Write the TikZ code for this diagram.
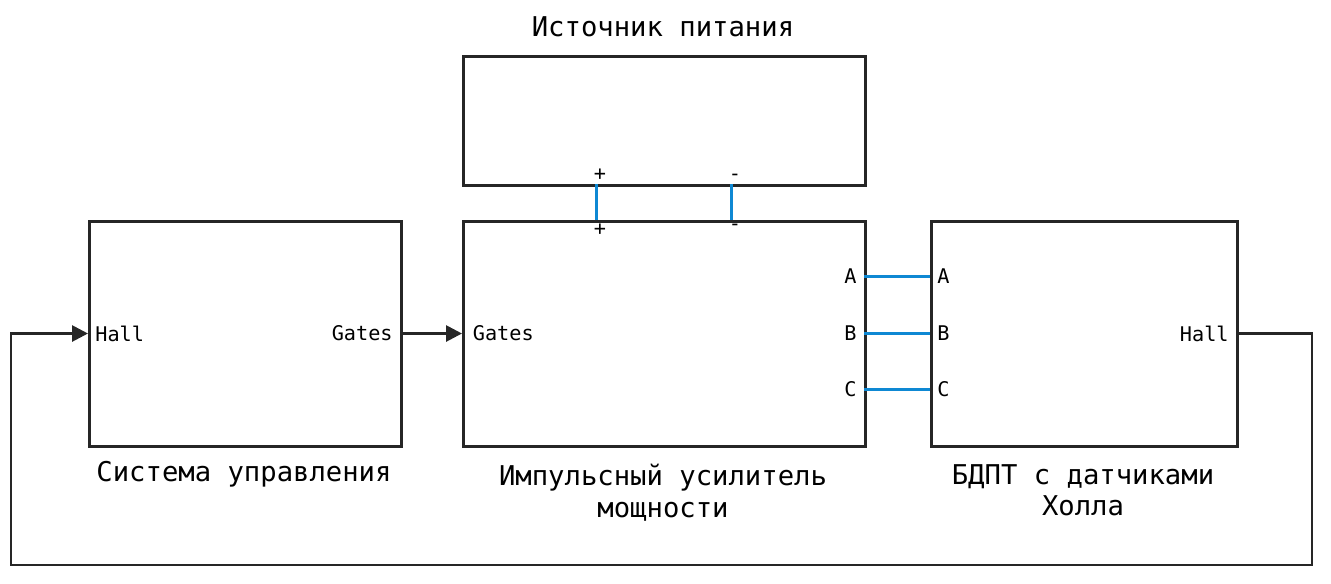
\documentclass[tikz,border=0pt]{standalone}
\usepackage{fontspec}
\setmonofont{DejaVu Sans Mono}
\usetikzlibrary{arrows.meta}
\begin{document}
\begin{tikzpicture}[x=0.02cm,y=-0.02cm,
  box/.style={draw=black!85,line width=1.5pt,fill=none},
  big/.style={font=\ttfamily\fontsize{15.5}{18}\selectfont,align=center},
  small/.style={font=\ttfamily\fontsize{11.5}{13}\selectfont,inner sep=4pt},
  wire/.style={draw=black!85,line width=1.6pt},
  phase/.style={draw=cyan!70!blue,line width=1.6pt}]
\useasboundingbox (0,0) rectangle (1331,583);
\node[box,minimum width=312*0.02cm,minimum height=225*0.02cm,anchor=north west] (cs) at (88,220) {};
\node[box,minimum width=402*0.02cm,minimum height=225*0.02cm,anchor=north west] (amp) at (462,220) {};
\node[box,minimum width=402*0.02cm,minimum height=129*0.02cm,anchor=north west] (ps) at (462,55) {};
\node[box,minimum width=306*0.02cm,minimum height=225*0.02cm,anchor=north west] (m) at (930,220) {};
\node[big] (tps) at (663,27) {Источник питания};
\node[big] (tcs) at (244,474) {Система управления};
\node[big,anchor=north] (tamp) at (663,458) {Импульсный усилитель\\мощности};
\node[big,anchor=north] (tm) at (1083,458) {БДПТ с датчиками\\Холла};
% ports
\coordinate (csH) at (88,333.5); \coordinate (csG) at (400,333.5);
\coordinate (ampG) at (462,333.5);
\coordinate (ampA) at (864,276.5); \coordinate (ampB) at (864,333.5); \coordinate (ampC) at (864,389.5);
\coordinate (mA) at (930,276.5); \coordinate (mB) at (930,333.5); \coordinate (mC) at (930,389.5);
\coordinate (mH) at (1236,333.5);
\coordinate (psP) at (596.5,184); \coordinate (psM) at (731.5,184);
\coordinate (ampP) at (596.5,220); \coordinate (ampM) at (731.5,220);
\node[small,anchor=west] (l1) at (csH) {Hall};
\node[small,anchor=east] (l2) at (csG) {Gates};
\node[small,anchor=west,xshift=2pt] (l3) at (ampG) {Gates};
\node[small,anchor=east] (l4) at (ampA) {A};
\node[small,anchor=east] (l5) at (ampB) {B};
\node[small,anchor=east] (l6) at (ampC) {C};
\node[small,anchor=west] (l7) at (mA) {A};
\node[small,anchor=west] (l8) at (mB) {B};
\node[small,anchor=west] (l9) at (mC) {C};
\node[small,anchor=east] (l10) at (mH) {Hall};
\node[small,anchor=south,inner sep=2pt] (l11) at ([xshift=2pt]psP) {+};
\node[small,anchor=south,inner sep=2pt] (l12) at ([xshift=2pt]psM) {-};
\node[small,anchor=north,inner sep=2pt] (l13) at ([xshift=2pt]ampP) {+};
\node[small,anchor=north,inner sep=2pt] (l14) at ([xshift=2pt]ampM) {-};
% connectors
\draw[phase] (psP) -- (ampP);
\draw[phase] (psM) -- (ampM);
\draw[phase] (ampA) -- (mA);
\draw[phase] (ampB) -- (mB);
\draw[phase] (ampC) -- (mC);
\draw[wire,-{Triangle[length=9pt,width=9pt]}] (csG) -- (ampG);
\draw[wire,-{Triangle[length=9pt,width=9pt]}] (mH) -- (1312,333.5) -- (1312,565) -- (11,565) -- (11,333.5) -- (csH);
\end{tikzpicture}
\end{document}
